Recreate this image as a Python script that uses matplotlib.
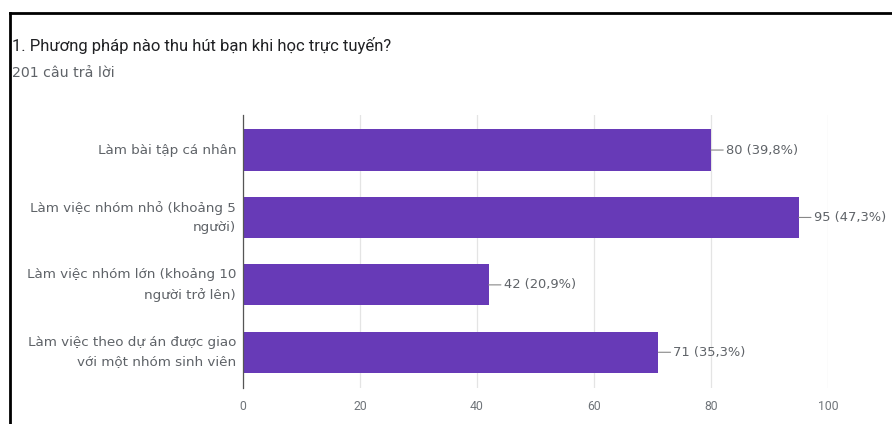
import matplotlib.pyplot as plt
from matplotlib.lines import Line2D

plt.rcParams['font.family'] = ['Roboto', 'DejaVu Sans']

categories = ['Làm bài tập cá nhân',
              'Làm việc nhóm nhỏ (khoảng 5\nngười)',
              'Làm việc nhóm lớn (khoảng 10\nngười trở lên)',
              'Làm việc theo dự án được giao\nvới một nhóm sinh viên']
counts = [80, 95, 42, 71]
percents = ['39,8%', '47,3%', '20,9%', '35,3%']
xticks = [0, 20, 40, 60, 80, 100]

wide = ['DejaVu Sans']

fig = plt.figure(figsize=(8.92, 4.24), dpi=100)
ax = fig.add_axes([243 / 892, 1 - 388 / 424, (828 - 243) / 892, (388 - 115) / 424])

pos = list(range(len(categories)))
ax.barh(pos, counts, height=0.61, color='#673ab7', zorder=3)

for i, (c, p) in enumerate(zip(counts, percents)):
    ax.annotate(f'{c} ({p})', xy=(c, i), xytext=(15, 0), textcoords='offset pixels',
                ha='left', va='center', fontsize=9.4, color='#5f6368', family=wide,
                annotation_clip=False,
                arrowprops=dict(arrowstyle='-', color='#888888', lw=0.8,
                                shrinkA=0, shrinkB=0))

ax.set_xlim(0, 100)
ax.set_ylim(3.53, -0.52)
ax.set_yticks(pos)
ax.set_yticklabels(categories, fontsize=9.7, color='#5f6368', linespacing=1.6,
                   family=wide, va='center', ha='right', multialignment='right')
ax.set_xticks(xticks)
ax.set_xticklabels([str(t) for t in xticks], fontsize=8.8, color='#70757a')
ax.tick_params(axis='x', length=0, pad=9)
ax.tick_params(axis='y', length=0, pad=5)
ax.grid(axis='x', color='#e4e4e4', lw=0.9, zorder=0)
for s in ['top', 'right', 'bottom']:
    ax.spines[s].set_visible(False)
ax.spines['left'].set_color('#555555')
ax.spines['left'].set_linewidth(0.9)
ax.spines['left'].set_zorder(4)

fig.text(12 / 892, 1 - 45 / 424, '1. Phương pháp nào thu hút bạn khi học trực tuyến?',
         fontsize=12, color='#202124', va='center')
fig.text(12 / 892, 1 - 73 / 424, '201 câu trả lời', fontsize=10.2, color='#5f6368',
         va='center', family=wide)

# photo frame edges
fig.add_artist(Line2D([10 / 892, 1], [1 - 13 / 424] * 2, color='black', lw=2))
fig.add_artist(Line2D([10 / 892] * 2, [0, 1 - 13 / 424], color='black', lw=2))

fig.savefig('out.png', dpi=100)
